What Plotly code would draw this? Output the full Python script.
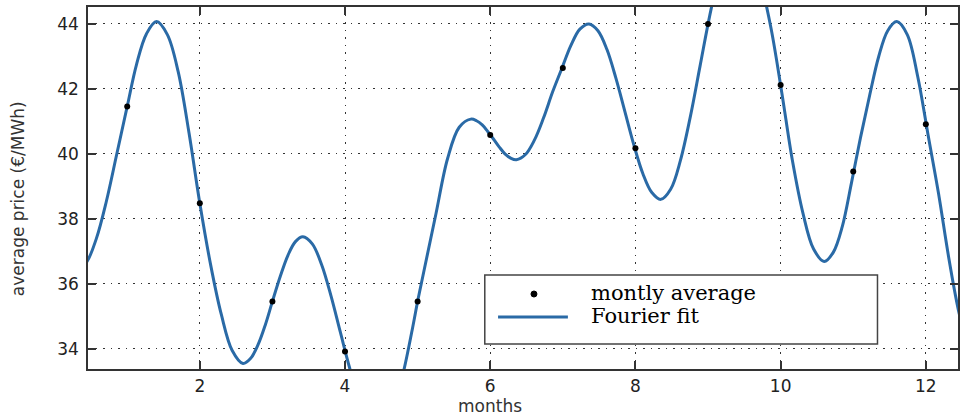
import plotly.graph_objects as go

# Monthly average electricity price (€/MWh)
months = [1, 2, 3, 4, 5, 6, 7, 8, 9, 10, 11, 12]
avg_price = [41.46, 38.48, 35.46, 33.92, 35.46, 40.58, 42.64, 40.17, 44.00, 42.12, 39.46, 40.91]

# Fourier fit evaluated along the month axis
fit_months = [0.30, 0.438, 0.576, 0.714, 0.852, 1.0, 1.128, 1.266,
              1.404, 1.553, 1.702, 1.851, 2.0, 2.148, 2.297, 2.446,
              2.595, 2.698, 2.801, 2.904, 3.0, 3.111, 3.214, 3.317,
              3.42, 3.549, 3.678, 3.806, 3.935, 4.064, 4.193, 4.321,
              4.45, 4.610, 4.771, 4.931, 5.0, 5.092, 5.252, 5.412, 5.573,
              5.733, 5.811, 5.890, 5.968, 6.047, 6.125, 6.203, 6.282,
              6.36, 6.485, 6.61, 6.735, 6.86, 6.985, 7.11, 7.235,
              7.36, 7.484, 7.608, 7.731, 7.855, 7.979, 8.103, 8.226,
              8.35, 8.485, 8.62, 8.755, 8.89, 9.025, 9.16, 9.295,
              9.43, 9.576, 9.723, 9.869, 10.015, 10.161, 10.308, 10.454,
              10.6, 10.725, 10.85, 10.975, 11.1, 11.225, 11.35, 11.475,
              11.6, 11.744, 11.888, 12.031, 12.175, 12.319, 12.463, 12.606, 12.75]
fit_price = [36.40, 36.66, 37.40, 38.55, 39.95, 41.46, 42.75, 43.70,
             44.07, 43.67, 42.53, 40.65, 38.48, 36.60, 35.05, 33.95,
             33.55, 33.70, 34.12, 34.75, 35.46, 36.25, 36.88, 37.30,
             37.45, 37.23, 36.59, 35.64, 34.52, 33.41, 32.46, 31.82,
             31.60, 31.96, 32.99, 34.65, 35.46, 36.45, 38.15, 39.85, 40.82,
             41.07, 41.02, 40.89, 40.68, 40.45, 40.21, 40.00, 39.87,
             39.82, 39.98, 40.43, 41.11, 41.91, 42.62, 43.33, 43.84,
             44.00, 43.79, 43.21, 42.33, 41.30, 40.27, 39.39, 38.81,
             38.60, 38.91, 39.80, 41.13, 42.70, 44.27, 45.60, 46.49,
             46.80, 46.42, 45.32, 43.85, 41.90, 39.81, 38.17, 37.07,
             36.69, 36.97, 37.77, 39.10, 40.50, 41.79, 42.99, 43.79,
             44.07, 43.67, 42.38, 40.58, 38.78, 36.76, 35.05, 33.90, 33.50]

x_ticks = [2, 4, 6, 8, 10, 12]
y_ticks = [34, 36, 38, 40, 42, 44]

legend_labels = ["montly average", "Fourier fit"]
x_title = "months"
y_title = "average price (€/MWh)"

FIT_BLUE = "#2a6aa6"
AX = "#333333"
SANS = "DejaVu Sans"
SERIF = "DejaVu Serif"

# plot-area geometry in pixels
W, H = 960, 420
L, R, T, B = 88, 0, 7, 51
PW, PH = W - L - R, H - T - B


def px_x(p):
    return (p - L) / PW


def px_y(p):
    return (H - B - p) / PH


fig = go.Figure()
fig.add_trace(go.Scatter(
    x=fit_months, y=fit_price, mode="lines", name=legend_labels[1],
    line=dict(color=FIT_BLUE, width=3, shape="spline", smoothing=1.0),
    showlegend=False,
))
fig.add_trace(go.Scatter(
    x=months, y=avg_price, mode="markers", name=legend_labels[0],
    marker=dict(color="black", size=6),
    showlegend=False,
))

axis_common = dict(
    showline=True, linecolor=AX, linewidth=1.5, mirror="ticks",
    ticks="inside", ticklen=8, tickwidth=1.5, tickcolor=AX,
    showgrid=True, gridcolor=AX, gridwidth=1.3, griddash="1.5px,6px",
    zeroline=False,
    tickfont=dict(family=SANS, size=17, color="#222222"),
)

fig.update_xaxes(range=[0.46, 12.443], tickvals=x_ticks, ticklabelstandoff=1, **axis_common)
fig.update_yaxes(range=[33.38, 44.52], tickvals=y_ticks, ticklabelstandoff=4, **axis_common)

# legend box drawn by hand
shapes = [
    dict(type="rect", xref="paper", yref="paper",
         x0=px_x(485.7), x1=px_x(879.3), y0=px_y(344), y1=px_y(275),
         line=dict(color="#444444", width=1.5), fillcolor="white", layer="above"),
    dict(type="circle", xref="paper", yref="paper",
         x0=px_x(532), x1=px_x(538), y0=px_y(297), y1=px_y(291),
         line=dict(color="black", width=1), fillcolor="black", layer="above"),
    dict(type="line", xref="paper", yref="paper",
         x0=px_x(499), x1=px_x(569), y0=px_y(317), y1=px_y(317),
         line=dict(color=FIT_BLUE, width=3), layer="above"),
]

annotations = [
    dict(text=legend_labels[0], xref="paper", yref="paper", x=px_x(590), y=px_y(293),
         xanchor="left", yanchor="middle", showarrow=False,
         font=dict(family=SERIF, size=21, color="black")),
    dict(text=legend_labels[1], xref="paper", yref="paper", x=px_x(590), y=px_y(316),
         xanchor="left", yanchor="middle", showarrow=False,
         font=dict(family=SERIF, size=21, color="black")),
    dict(text=x_title, xref="x", yref="paper", x=6.0, y=px_y(406),
         xanchor="center", yanchor="middle", showarrow=False,
         font=dict(family=SANS, size=17, color="#333333")),
    dict(text=y_title, xref="paper", yref="paper", x=px_x(18), y=px_y(199),
         xanchor="center", yanchor="middle", showarrow=False, textangle=-90,
         font=dict(family=SANS, size=17, color="#333333")),
]

fig.update_layout(
    width=W, height=H,
    margin=dict(l=L, r=R, t=T, b=B),
    plot_bgcolor="white", paper_bgcolor="white",
    showlegend=False,
    shapes=shapes, annotations=annotations,
)

fig.write_html("out.html")
